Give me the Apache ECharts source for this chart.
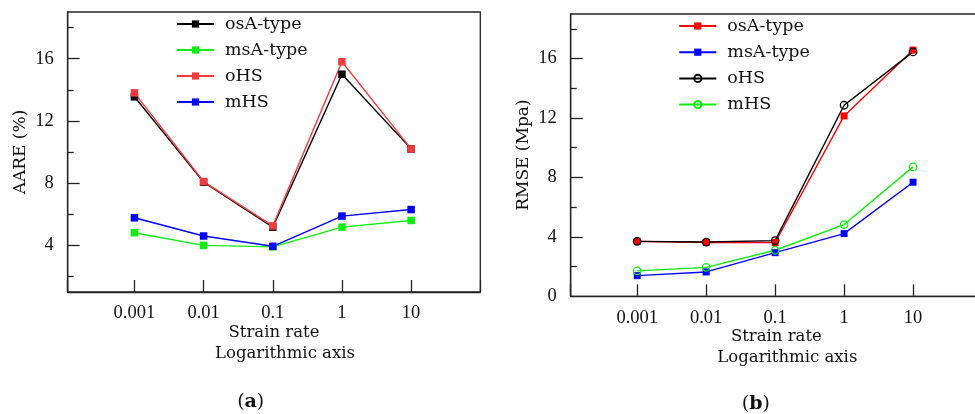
<!DOCTYPE html>
<html>
<head>
<meta charset="utf-8">
<script src="https://cdn.jsdelivr.net/npm/echarts@6/dist/echarts.min.js"></script>
<style>
  html, body { margin: 0; padding: 0; background: #fff; }
  #wrap { position: relative; width: 975px; height: 414px; overflow: hidden; }
  #chartA { position: absolute; left: 0; top: 0; width: 490px; height: 414px; }
  /* panel (b) runs past the right edge of the page, so its frame is cut off */
  #chartB { position: absolute; left: 490px; top: 0; width: 495px; height: 414px; }
</style>
</head>
<body>
<div id="wrap">
  <div id="chartA"></div>
  <div id="chartB"></div>
</div>
<script>
// Strain rates (log-scaled x axis) and their tick labels
const strainRates = [0.001, 0.01, 0.1, 1, 10];
const xTickLabels = ['0.001', '0.01', '0.1', '1', '10'];

// Panel (a): AARE (%)
const aareOsA = [13.55, 8.06, 5.17, 15.0, 10.2];
const aareMsA = [4.81, 4.0, 3.9, 5.17, 5.6];
const aareOHS = [13.8, 8.1, 5.25, 15.8, 10.2];
const aareMHS = [5.77, 4.6, 3.94, 5.88, 6.3];

// Panel (b): RMSE (Mpa)
const rmseOsA = [3.7, 3.62, 3.62, 12.14, 16.57];
const rmseMsA = [1.39, 1.64, 2.94, 4.22, 7.68];
const rmseOHS = [3.7, 3.65, 3.75, 12.86, 16.45];
const rmseMHS = [1.71, 1.95, 3.1, 4.83, 8.71];

// Y-axis ticks
const aareLabels = [4, 8, 12, 16];
const aareMajor = [4, 8, 12, 16];
const aareMinor = [2, 6, 10, 14, 18];
const rmseLabels = [0, 4, 8, 12, 16];
const rmseMajor = [4, 8, 12, 16];
const rmseMinor = [2, 6, 10, 14, 18];

const seriesNames = ['osA-type', 'msA-type', 'oHS', 'mHS'];

const TXT = '"DejaVu Serif", serif';
const NUM = '"Liberation Serif", serif';
const AXIS = '#222';

function pairs(vals) {
  return strainRates.map((x, i) => [x, vals[i]]);
}

function xLabel(v) {
  const lg = Math.log10(v);
  const e = Math.round(lg);
  if (Math.abs(lg - e) > 1e-6) return '';
  const idx = strainRates.findIndex(r => Math.round(Math.log10(r)) === e);
  return idx >= 0 ? xTickLabels[idx] : '';
}

function lineSeries(name, vals, color, kind, size) {
  const s = {
    name: name,
    type: 'line',
    data: pairs(vals),
    xAxisIndex: 0,
    yAxisIndex: 0,
    lineStyle: { color: color, width: 1.4 },
    emphasis: { disabled: true },
    symbolKeepAspect: true
  };
  if (kind === 'square') {
    s.symbol = 'rect';
    s.symbolSize = size;
    s.itemStyle = { color: color };
  } else {
    s.symbol = 'circle';
    s.symbolSize = size;
    s.itemStyle = { color: 'rgba(255,255,255,0)', borderColor: color, borderWidth: 1.3 };
  }
  return s;
}

function panel(cfg) {
  return {
    animation: false,
    backgroundColor: '#fff',
    grid: {
      left: cfg.grid.left, right: cfg.grid.right, top: cfg.grid.top, bottom: cfg.grid.bottom,
      show: true, borderColor: AXIS, borderWidth: 1.3, backgroundColor: 'transparent'
    },
    legend: {
      orient: 'vertical',
      left: cfg.legend.left,
      top: cfg.legend.top,
      padding: 0,
      itemGap: cfg.legend.gap,
      itemWidth: 37,
      itemHeight: 9,
      selectedMode: false,
      data: seriesNames,
      textStyle: { fontFamily: TXT, fontSize: 17.5, color: '#111', lineHeight: 20, padding: [0, 0, 0, 6] }
    },
    title: {
      text: '({b|' + cfg.tag + '})',
      left: cfg.tagPos[0], top: cfg.tagPos[1],
      textAlign: 'center',
      textStyle: {
        fontFamily: TXT, fontSize: 19, fontWeight: 'normal', color: '#111',
        rich: { b: { fontFamily: TXT, fontSize: 19, fontWeight: 'bold', color: '#111' } }
      }
    },
    xAxis: [{
      type: 'log',
      logBase: 10,
      min: 1.085e-4,
      max: 100,
      splitNumber: 6,
      name: '{a|Strain rate}\n{b|Logarithmic axis}',
      nameLocation: 'middle',
      nameGap: cfg.xNameGap,
      nameMoveOverlap: false,
      nameTextStyle: {
        fontFamily: TXT, fontSize: 16.5, color: '#111', lineHeight: 20.5,
        rich: {
          a: { fontFamily: TXT, fontSize: 16.5, color: '#111', lineHeight: 20.5 },
          b: { fontFamily: TXT, fontSize: 16.5, color: '#111', lineHeight: 20.5, padding: [0, 0, 0, 22] }
        }
      },
      axisLine: { show: true, lineStyle: { color: AXIS, width: 1.3 } },
      axisTick: { show: true, inside: true, length: 12, lineStyle: { color: AXIS, width: 1.3 } },
      minorTick: { show: false },
      splitLine: { show: false },
      axisLabel: { formatter: xLabel, fontFamily: NUM, fontSize: 18.5, color: '#111', margin: 12 }
    }],
    yAxis: [{
      type: 'value',
      min: cfg.yMin,
      max: 19,
      name: cfg.yName,
      nameLocation: 'middle',
      nameGap: cfg.yNameGap,
      nameMoveOverlap: false,
      nameTextStyle: { fontFamily: TXT, fontSize: 17, color: '#111' },
      axisLine: { show: true, lineStyle: { color: AXIS, width: 1.3 } },
      axisTick: { show: true, inside: true, length: 12, customValues: cfg.major, lineStyle: { color: AXIS, width: 1.3 } },
      axisLabel: { customValues: cfg.labels, fontFamily: NUM, fontSize: 18.5, color: '#111', margin: 14 },
      splitLine: { show: false }
    }, {
      type: 'value',
      min: cfg.yMin,
      max: 19,
      position: 'left',
      axisLine: { show: false },
      axisTick: { show: true, inside: true, length: 6, customValues: cfg.minor, lineStyle: { color: AXIS, width: 1.3 } },
      axisLabel: { show: false },
      splitLine: { show: false }
    }],
    series: cfg.series
  };
}

const chartA = echarts.init(document.getElementById('chartA'), null, { renderer: 'canvas' });
chartA.setOption(panel({
  grid: { left: 67.7, right: 9.7, top: 12, bottom: 122 },
  legend: { left: 176, top: 14, gap: 6 },
  tag: 'a',
  tagPos: [245.7, 388],
  yMin: 1,
  yName: 'AARE (%)',
  yNameGap: 38.5,
  xNameGap: 30.5,
  labels: aareLabels, major: aareMajor, minor: aareMinor,
  series: [
    lineSeries('osA-type', aareOsA, '#000000', 'square', 7.5),
    lineSeries('msA-type', aareMsA, '#10ee10', 'square', 7.5),
    lineSeries('oHS', aareOHS, '#f03c3c', 'square', 7.5),
    lineSeries('mHS', aareMHS, '#0000ff', 'square', 7.5)
  ]
}));

const chartB = echarts.init(document.getElementById('chartB'), null, { renderer: 'canvas' });
chartB.setOption(panel({
  grid: { left: 80.7, right: 0.3, top: 14, bottom: 117.7 },
  legend: { left: 188.3, top: 16, gap: 6.2 },
  tag: 'b',
  tagPos: [260.8, 390],
  yMin: 0,
  yName: 'RMSE (Mpa)',
  yNameGap: 38.5,
  xNameGap: 30.5,
  labels: rmseLabels, major: rmseMajor, minor: rmseMinor,
  series: [
    lineSeries('osA-type', rmseOsA, '#ff0000', 'square', 7),
    lineSeries('msA-type', rmseMsA, '#0000ff', 'square', 7),
    lineSeries('oHS', rmseOHS, '#000000', 'circle', 7.5),
    lineSeries('mHS', rmseMHS, '#10ee10', 'circle', 7.5)
  ]
}));
</script>
</body>
</html>
